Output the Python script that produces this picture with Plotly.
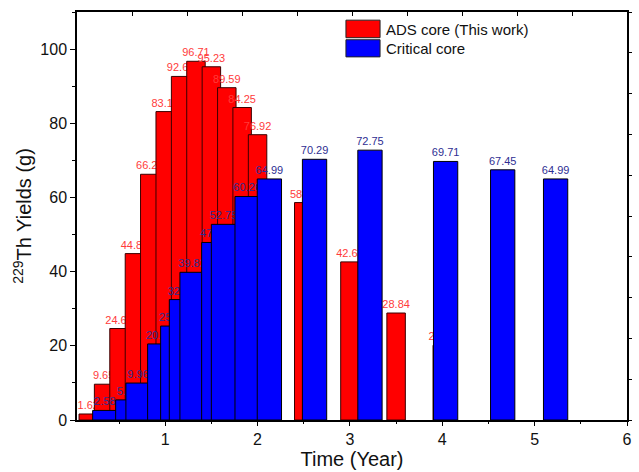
import plotly.graph_objects as go

# ---------------- data ----------------
ads_time = [0.167, 0.333, 0.5, 0.667, 0.833, 1.0, 1.167, 1.333, 1.5, 1.667, 1.833, 2.0,
            2.5, 3.0, 3.5, 4.0]
ads_yield = [1.62, 9.65, 24.66, 44.86, 66.25, 83.15, 92.63, 96.71, 95.23, 89.59, 84.25, 76.92,
             58.62, 42.63, 28.84, 20.15]

crit_time = [0.346, 0.595, 0.706, 0.941, 1.082, 1.176, 1.291, 1.526, 1.631, 1.887, 2.128,
             2.617, 3.217, 4.036, 4.654, 5.227]
crit_yield = [2.58, 5.42, 9.96, 20.51, 25.33, 32.47, 39.82, 47.86, 52.75, 60.26, 64.99,
              70.29, 72.75, 69.71, 67.45, 64.99]

series_names = ["ADS core (This work)", "Critical core"]
x_ticks = [1, 2, 3, 4, 5, 6]
y_ticks = [0, 20, 40, 60, 80, 100]

FONT = "Arial, Liberation Sans, sans-serif"

fig = go.Figure()

fig.add_trace(go.Bar(
    x=ads_time, y=ads_yield, width=0.2,
    name=series_names[0],
    marker=dict(color="#ff0000", line=dict(color="#3a0000", width=1)),
    text=[f"{v:.2f}" for v in ads_yield], textposition="outside",
    textangle=0, constraintext="none",
    outsidetextfont=dict(family=FONT, size=11, color="#ff3b3b"),
    showlegend=False,
))
fig.add_trace(go.Bar(
    x=crit_time, y=crit_yield, width=0.263,
    name=series_names[1],
    marker=dict(color="#0000ff", line=dict(color="#000000", width=1)),
    text=[f"{v:.2f}" for v in crit_yield], textposition="outside",
    textangle=0, constraintext="none",
    outsidetextfont=dict(family=FONT, size=11, color="#2e2e92"),
    showlegend=False,
))
# empty trace to activate the mirror axes (top / right ticks)
fig.add_trace(go.Scatter(x=[], y=[], xaxis="x2", yaxis="y2", showlegend=False,
                         hoverinfo="skip"))

fig.update_layout(
    width=639, height=472,
    margin=dict(l=77, r=12, t=12, b=52),
    paper_bgcolor="white", plot_bgcolor="white",
    barmode="overlay",
    font=dict(family=FONT, color="#111111"),
    xaxis=dict(
        range=[0.045, 6.0], tickvals=x_ticks, ticks="outside", ticklen=4,
        tickwidth=1, tickcolor="black", automargin=False,
        minor=dict(dtick=0.5, tick0=0, ticks="outside", ticklen=2, tickcolor="black"),
        showline=True, linecolor="black", linewidth=1.5, mirror=True,
        showgrid=False, zeroline=False,
        tickfont=dict(family=FONT, size=16, color="#111111"),
        title=dict(text="Time (Year)", font=dict(family=FONT, size=20, color="#111111"),
                   standoff=2),
    ),
    yaxis=dict(
        range=[0, 110], tickvals=y_ticks, ticks="outside", ticklen=5,
        tickwidth=1, tickcolor="black", automargin=False,
        minor=dict(dtick=10, tick0=0, ticks="outside", ticklen=3, tickcolor="black"),
        showline=True, linecolor="black", linewidth=1.5, mirror=True,
        showgrid=False, zeroline=False,
        tickfont=dict(family=FONT, size=16, color="#111111"),
        title=dict(text="<sup>229</sup>Th Yields (g)",
                   font=dict(family=FONT, size=20, color="#111111"), standoff=3),
    ),
    xaxis2=dict(
        overlaying="x", side="top", range=[0, 10], dtick=1, tick0=0,
        ticks="inside", ticklen=4, tickcolor="black", showticklabels=False,
        showline=False, showgrid=False, zeroline=False, anchor="y2", automargin=False,
    ),
    yaxis2=dict(
        overlaying="y", side="right", range=[0, 10], dtick=1, tick0=0,
        ticks="outside", ticklen=4, tickcolor="black", showticklabels=False,
        showline=False, showgrid=False, zeroline=False, anchor="x2", automargin=False,
    ),
)

# custom legend (boxes + labels)
legend_colors = ["#ff0000", "#0000ff"]
legend_rows = [(0.980, 0.937, 0.958), (0.932, 0.890, 0.911)]
for name, col, (y1, y0, yc) in zip(series_names, legend_colors, legend_rows):
    fig.add_shape(type="rect", xref="paper", yref="paper",
                  x0=0.489, x1=0.551, y0=y0, y1=y1,
                  fillcolor=col, line=dict(color="#222222", width=1))
    fig.add_annotation(xref="paper", yref="paper", x=0.559, y=yc,
                       xanchor="left", yanchor="middle", showarrow=False,
                       text=name, font=dict(family=FONT, size=15, color="#111111"))

fig.write_html("out.html")
